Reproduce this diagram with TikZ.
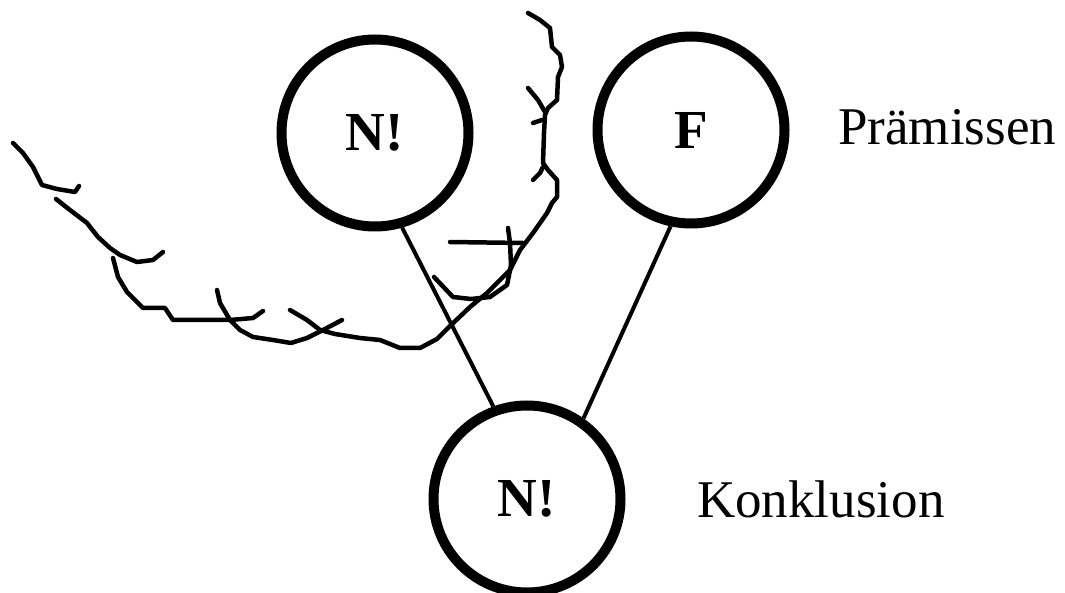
\documentclass[tikz,border=0pt]{standalone}
\usepackage{fontspec}
\setmainfont{Liberation Serif}
\begin{document}
\begin{tikzpicture}[x=1pt,y=-1pt,
  prem/.style={circle,draw,line width=10pt,minimum size=187pt,inner sep=0pt,font=\fontsize{55}{62}\selectfont\bfseries},
  conn/.style={line width=4pt},
  squig/.style={line width=4.5pt,line cap=round,line join=round},
  lbl/.style={font=\fontsize{53}{60}\selectfont,inner sep=0pt}]
\useasboundingbox[fill=white] (0,0) rectangle (1065,593);
\node[prem] (n1) at (375,133) {N!};
\node[prem] (f) at (691,130) {F};
\node[prem] (k) at (527,499) {N!};
\node[lbl,anchor=base west] (pl) at (838,145) {Prämissen};
\node[lbl,anchor=base west] (kl) at (697,517) {Konklusion};
\draw[conn] (n1.-74) -- (k.110);
\draw[conn] (f.-102) -- (k.55);
% hand-drawn squiggle
\draw[squig] (13,143) -- (23,153) -- (33,167) -- (42,185) -- (57,189) -- (75,192) -- (79,186);
\draw[squig] (56,199) -- (70,210) -- (87,223) -- (98,237) -- (110,248) -- (120,255) -- (137,262) -- (153,260) -- (163,252);
\draw[squig] (113,258) -- (118,277) -- (127,292) -- (143,308) -- (165,308) -- (173,320) -- (230,320) -- (253,318) -- (263,311);
\draw[squig] (217,290) -- (220,303) -- (230,320) -- (240,330) -- (253,337) -- (273,340) -- (291,343) -- (307,338) -- (323,330) -- (342,320);
\draw[squig] (290,310) -- (307,320) -- (320,330) -- (335,334) -- (360,338) -- (380,340) -- (400,348) -- (420,348) -- (437,339) -- (450,326) -- (470,307) -- (487,293) -- (510,270) -- (520,250) -- (533,233) -- (547,213) -- (552,203) -- (557,197) -- (557,180) -- (548,170) -- (543,163) -- (544,133) -- (545,115) -- (548,108) -- (557,100) -- (558,77) -- (562,67) -- (560,55) -- (552,47) -- (550,28) -- (540,20) -- (528,13);
\draw[squig] (528,88) -- (538,100) -- (545,112);
\draw[squig] (533,123) -- (542,120);
\draw[squig] (533,180) -- (540,173) -- (543,167);
\draw[squig] (450,242) -- (523,243);
\draw[squig] (434,277) -- (453,297) -- (471,299) -- (490,297) -- (507,285) -- (511,265) -- (510,243) -- (508,228);
\end{tikzpicture}
\end{document}
